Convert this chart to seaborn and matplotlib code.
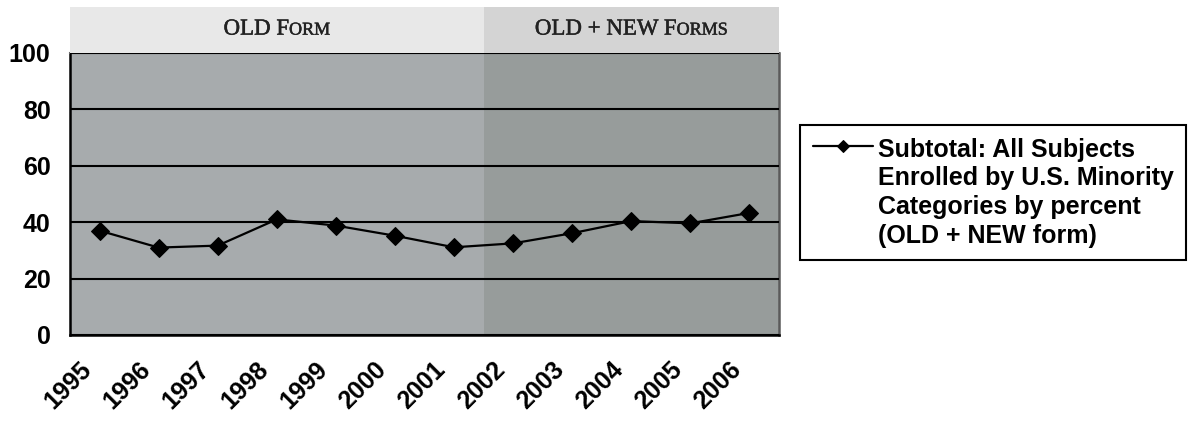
import numpy as np
import pandas as pd
import seaborn as sns
import matplotlib
matplotlib.use("Agg")
import matplotlib.pyplot as plt
import matplotlib.patheffects as pe
from matplotlib.offsetbox import TextArea, HPacker, AnnotationBbox
from matplotlib.transforms import ScaledTranslation

# ---- data ----
years = [1995, 1996, 1997, 1998, 1999, 2000, 2001, 2002, 2003, 2004, 2005, 2006]
values = [37.0, 31.0, 31.7, 41.0, 38.8, 35.2, 31.1, 32.5, 36.1, 40.4, 39.6, 43.3]
year_ticks = list(range(1995, 2008))
year_tick_labels = [str(y) for y in years] + [""]
y_ticks = [0, 20, 40, 60, 80, 100]
series_label = ("Subtotal: All Subjects\nEnrolled by U.S. Minority\n"
                "Categories by percent\n(OLD + NEW form)")
# phase bands: start, end, large-cap part, small-cap part
phases = [(1995, 2002, "OLD F", "ORM"), (2002, 2007, "OLD + NEW F", "ORMS")]
phase_plot_colors = ["#a7abad", "#979c9b"]
phase_header_colors = ["#e8e8e8", "#d4d4d4"]

sns.set_style("white")
plt.rcParams["font.family"] = ["Liberation Sans", "DejaVu Sans"]
plt.rcParams["text.color"] = "black"
plt.rcParams["xtick.color"] = "black"
plt.rcParams["ytick.color"] = "black"

W, H = 1189, 421
fig = plt.figure(figsize=(W / 100, H / 100), dpi=100)
left, right, top, bottom = 70, 779, 53, 335
ax = fig.add_axes([left / W, 1 - bottom / H, (right - left) / W, (bottom - top) / H])
hx = fig.add_axes([left / W, 1 - top / H, (right - left) / W, (top - 7) / H])

# background bands
for (x0, x1, _, _), pc, hc in zip(phases, phase_plot_colors, phase_header_colors):
    ax.axvspan(x0, x1, color=pc, zorder=0, lw=0)
    hx.axvspan(x0, x1, color=hc, zorder=0, lw=0)

df = pd.DataFrame({"year": years, "value": values})
df["pos"] = df["year"] + 0.5
sns.lineplot(data=df, x="pos", y="value", ax=ax, color="black", marker="D",
             markersize=9, markeredgecolor="black", linewidth=1.6,
             label=series_label, zorder=5)

ax.set_xlim(1995, 2007)
ax.set_ylim(0, 100)
ax.set_xticks(year_ticks)
ax.set_xticklabels(year_tick_labels, rotation=45, ha="right", va="top",
                   rotation_mode="anchor", fontsize=18, fontweight="bold", color="black")
ax.set_yticks(y_ticks)
ax.set_yticklabels([str(v) for v in y_ticks], fontsize=18, fontweight="bold", color="black")
ax.tick_params(axis="x", direction="out", length=6, width=1.6, color="black", pad=10)
ax.tick_params(axis="y", direction="out", length=6, width=1.6, color="black", pad=8)
ax.set_xlabel("")
ax.set_ylabel("")
ax.yaxis.grid(True, color="black", linewidth=1.5)
ax.xaxis.grid(False)
ax.set_axisbelow(False)
for lbl in ax.get_xticklabels():
    lbl.set_transform(lbl.get_transform() + ScaledTranslation(0.09, 0, fig.dpi_scale_trans))

ax.spines["left"].set_color("black")
ax.spines["left"].set_linewidth(1.8)
ax.spines["bottom"].set_color("black")
ax.spines["bottom"].set_linewidth(1.8)
ax.spines["right"].set_color("#5a5a5a")
ax.spines["right"].set_linewidth(1.8)
ax.spines["top"].set_color("#6a6a6a")
ax.spines["top"].set_linewidth(1.5)

# header band with small-caps titles
hx.set_xlim(1995, 2007)
hx.set_ylim(0, 1)
hx.axis("off")
heavy = [pe.withStroke(linewidth=0.35, foreground="#222222")]
for x0, x1, big, small in phases:
    pack = HPacker(children=[
        TextArea(big, textprops=dict(family="Liberation Serif", size=16.5, color="#222222",
                                     path_effects=heavy)),
        TextArea(small, textprops=dict(family="Liberation Serif", size=13, color="#222222",
                                       path_effects=heavy)),
    ], align="baseline", pad=0, sep=0)
    ab = AnnotationBbox(pack, ((x0 + x1) / 2, 0.52), xycoords="data",
                        frameon=False, box_alignment=(0.5, 0.5))
    hx.add_artist(ab)

# legend
handles, labels = ax.get_legend_handles_labels()
ax.get_legend().remove()
leg = fig.legend(handles, labels, loc="upper left",
                 bbox_to_anchor=(800 / W, 1 - 125 / H), bbox_transform=fig.transFigure,
                 frameon=True, fancybox=False, edgecolor="black", framealpha=1,
                 prop=dict(family="Liberation Sans", weight="bold", size=18),
                 handlelength=2.4, handletextpad=0.2, borderpad=0.5,
                 borderaxespad=0, markerscale=0.7)
leg.get_frame().set_linewidth(1.5)
for t in leg.get_texts():
    t.set_linespacing(1.25)
for col in leg._legend_handle_box.get_children():
    for item in col.get_children():
        item.align = "top"

fig.savefig("out.png", dpi=100)
